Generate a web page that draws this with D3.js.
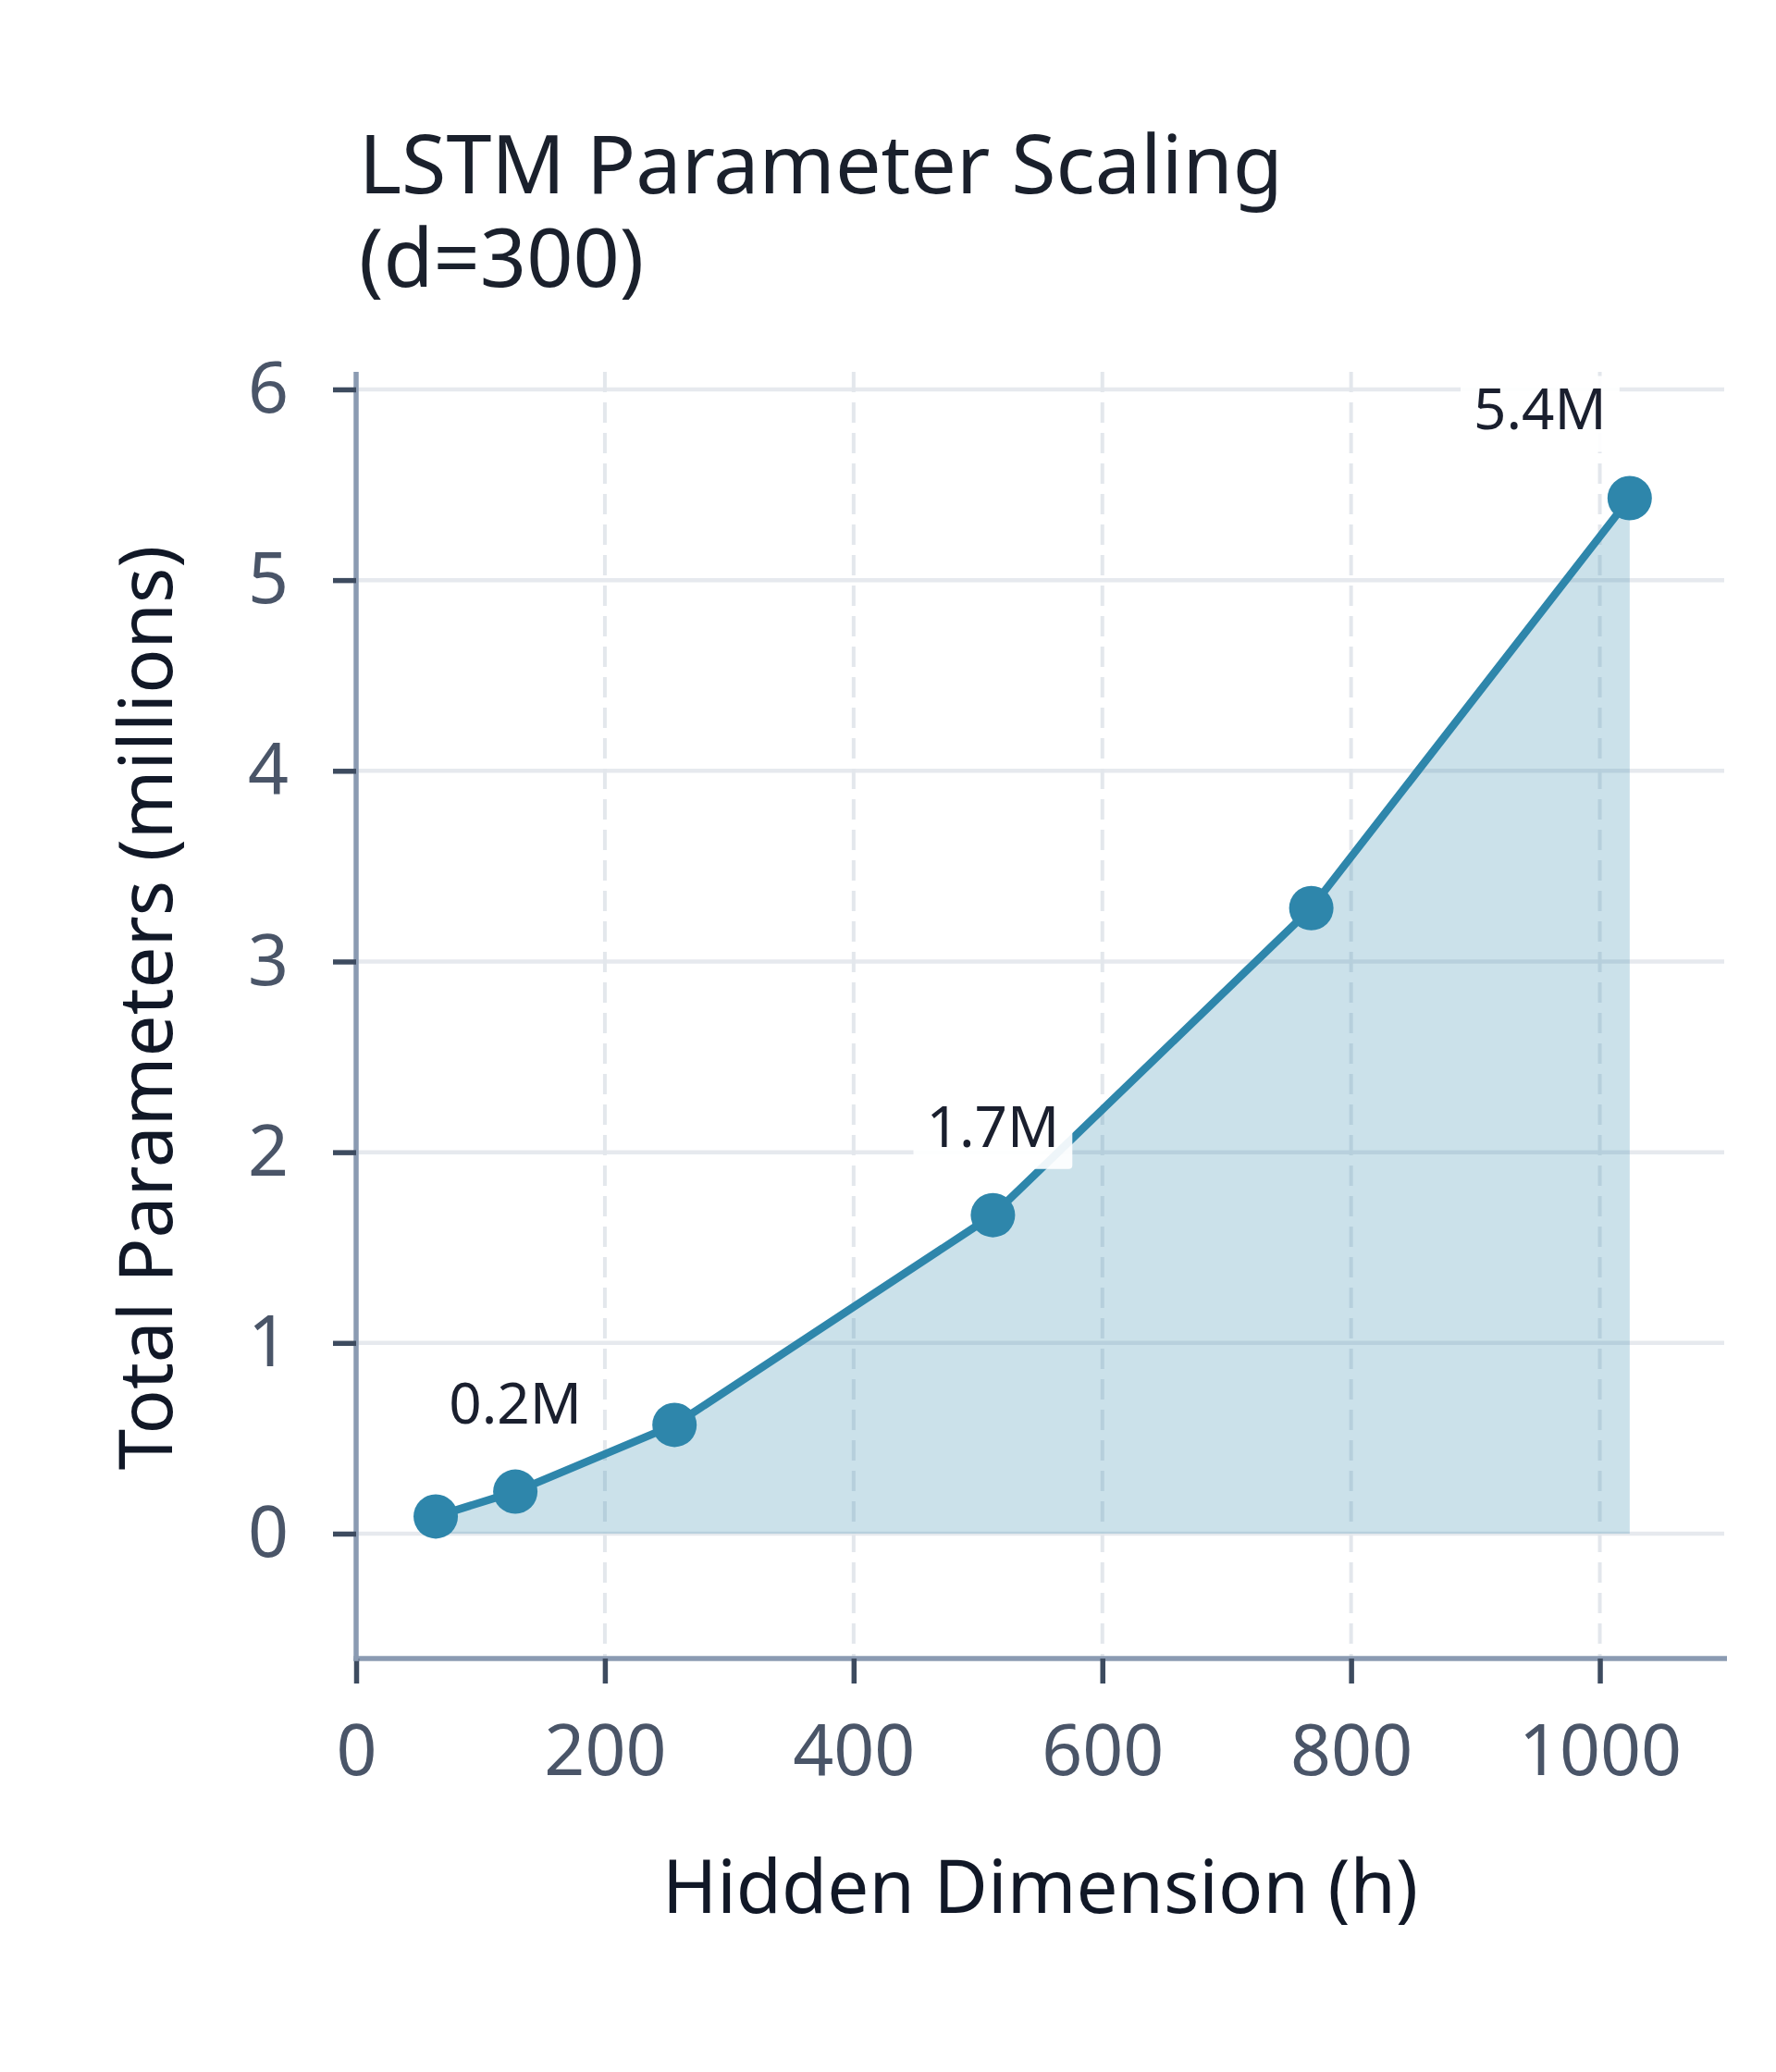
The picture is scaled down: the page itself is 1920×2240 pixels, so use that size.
<!DOCTYPE html>
<html>
<head>
<meta charset="utf-8">
<script src="https://cdn.jsdelivr.net/npm/d3@7"></script>
<style>
  body { margin: 0; background: #ffffff; }
  svg text { font-family: "Noto Sans", "Open Sans", sans-serif; }
</style>
</head>
<body>
<div id="chart"></div>
<script>
// chart data
var hiddenDims = [64, 128, 256, 512, 768, 1024];
var totalParams = [0.09, 0.22, 0.57, 1.67, 3.28, 5.43];
var labelDims = [128, 512, 1024];
var labelTexts = ["0.2M", "1.7M", "5.4M"];
var xTicks = [0, 200, 400, 600, 800, 1000];
var yTicks = [0, 1, 2, 3, 4, 5, 6];

var titleLines = ["LSTM Parameter Scaling", "(d=300)"];
var xAxisLabel = "Hidden Dimension (h)";
var yAxisLabel = "Total Parameters (millions)";

// setting up svg
var svgWidth = 1920;
var svgHeight = 2240;

var svg = d3.select("#chart")
  .append("svg")
    .attr("width", svgWidth)
    .attr("height", svgHeight);

var lineColor = "#2e86ab";

var data = hiddenDims.map((h, i) => ({ h: h, p: totalParams[i] }));

// scales
var xScale = d3.scaleLinear()
    .domain([0, 1100])
    .range([385, 1864]);

var yScale = d3.scaleLinear()
    .domain([-0.655, 6.092])
    .range([1793, 402]);

var plotLeft = xScale.range()[0];
var plotRight = xScale.range()[1];
var plotTop = yScale.range()[1];
var plotBottom = yScale.range()[0];

// horizontal gridlines (solid)
svg.append("g")
  .selectAll("line").data(yTicks)
  .enter().append("line")
    .attr("x1", plotLeft)
    .attr("x2", plotRight)
    .attr("y1", d => yScale(d))
    .attr("y2", d => yScale(d))
    .attr("stroke", "#e6e9ee")
    .attr("stroke-width", 4.5);

// vertical gridlines (dashed)
svg.append("g")
  .selectAll("line").data(xTicks.filter(d => d > 0))
  .enter().append("line")
    .attr("x1", d => xScale(d))
    .attr("x2", d => xScale(d))
    .attr("y1", plotTop)
    .attr("y2", plotBottom)
    .attr("stroke", "#e3e7ec")
    .attr("stroke-width", 4)
    .attr("stroke-dasharray", "22,11");

// area under the curve
var area = d3.area()
    .x(d => xScale(d.h))
    .y0(yScale(0))
    .y1(d => yScale(d.p));

svg.append("path")
    .datum(data)
    .attr("d", area)
    .attr("fill", lineColor)
    .attr("fill-opacity", 0.25);

// line
var line = d3.line()
    .x(d => xScale(d.h))
    .y(d => yScale(d.p));

svg.append("path")
    .datum(data)
    .attr("d", line)
    .attr("fill", "none")
    .attr("stroke", lineColor)
    .attr("stroke-width", 8.5)
    .attr("stroke-linejoin", "round");

// points
svg.append("g")
  .selectAll("circle").data(data)
  .enter().append("circle")
    .attr("cx", d => xScale(d.h))
    .attr("cy", d => yScale(d.p))
    .attr("r", 24)
    .attr("fill", lineColor);

// axes
var bottomAxis = d3.axisBottom(xScale)
    .tickValues(xTicks)
    .tickFormat(d3.format("d"))
    .tickSize(27)
    .tickSizeOuter(0)
    .tickPadding(44);

var leftAxis = d3.axisLeft(yScale)
    .tickValues(yTicks)
    .tickFormat(d3.format("d"))
    .tickSize(25)
    .tickSizeOuter(0)
    .tickPadding(48);

var bottomAxisG = svg.append("g")
    .attr("transform", `translate(0,${plotBottom})`)
    .call(bottomAxis);

var leftAxisG = svg.append("g")
    .attr("transform", `translate(${plotLeft},0)`)
    .call(leftAxis);

[bottomAxisG, leftAxisG].forEach(g => {
    g.select(".domain")
        .attr("stroke", "#8b9bb2")
        .attr("stroke-width", 5.5);
    g.selectAll(".tick line")
        .attr("stroke", "#3d4b5f")
        .attr("stroke-width", 5.5);
    g.selectAll(".tick text")
        .attr("fill", "#4a5568")
        .style("font-size", "77px");
});

// extend the axis lines to meet at the corner
bottomAxisG.select(".domain")
    .attr("d", `M${plotLeft - 2.75},0H${plotRight + 3}`);
leftAxisG.select(".domain")
    .attr("d", `M0,${plotTop}V${plotBottom + 2.75}`);

// point labels with white boxes
var labelG = svg.append("g");

labelDims.forEach((h, i) => {
    var d = data.find(e => e.h === h);
    var isLast = i === labelDims.length - 1;
    var px = xScale(d.h);
    var py = yScale(d.p);
    var g = labelG.append("g");
    var t = g.append("text")
        .attr("x", isLast ? px - 25 : px)
        .attr("y", py - 74)
        .attr("text-anchor", isLast ? "end" : "middle")
        .attr("fill", "#1a1f2e")
        .style("font-size", "62px")
        .text(labelTexts[i]);
    var bb = t.node().getBBox();
    g.insert("rect", "text")
        .attr("x", bb.x - 14)
        .attr("y", bb.y + 8)
        .attr("width", bb.width + 28)
        .attr("height", bb.height - 2)
        .attr("rx", 4)
        .attr("fill", "#ffffff")
        .attr("fill-opacity", 0.92);
});

// title
svg.append("text")
    .attr("x", 388)
    .attr("y", 209)
    .attr("fill", "#1a202c")
    .style("font-size", "88px")
  .selectAll("tspan").data(titleLines)
  .enter().append("tspan")
    .attr("x", 388)
    .attr("dy", (d, i) => i === 0 ? 0 : 101)
    .text(d => d);

// axis labels
svg.append("text")
    .attr("x", (plotLeft + plotRight) / 2)
    .attr("y", 2068)
    .attr("text-anchor", "middle")
    .attr("fill", "#111827")
    .style("font-size", "80px")
    .text(xAxisLabel);

svg.append("text")
    .attr("transform", `translate(186,${(plotTop + plotBottom) / 2 - 8}) rotate(-90)`)
    .attr("text-anchor", "middle")
    .attr("fill", "#111827")
    .style("font-size", "80px")
    .text(yAxisLabel);
</script>
</body>
</html>
